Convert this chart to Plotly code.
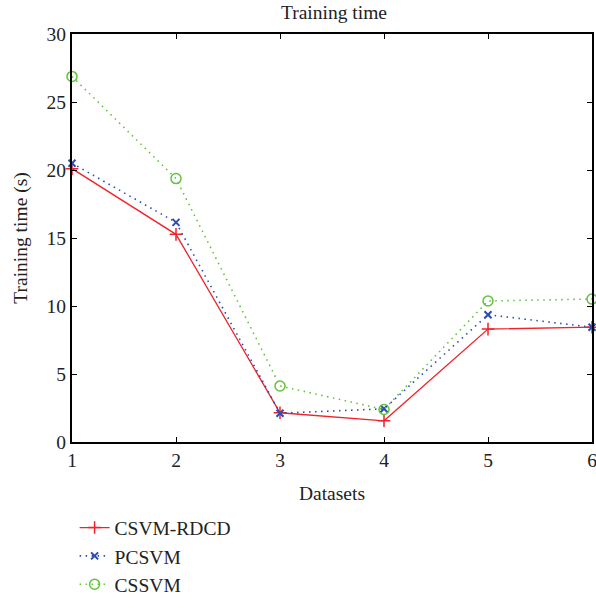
import plotly.graph_objects as go

datasets = [1, 2, 3, 4, 5, 6]
csvm_rdcd = [20.1, 15.27, 2.15, 1.56, 8.3, 8.44]
pcsvm = [20.5, 16.15, 2.12, 2.44, 9.36, 8.44]
cssvm = [26.88, 19.37, 4.12, 2.39, 10.37, 10.51]

x_ticks = [1, 2, 3, 4, 5, 6]
y_ticks = [0, 5, 10, 15, 20, 25, 30]

FONT = "Liberation Serif"
TXT = "#222"
FS = 19.5

fig = go.Figure()
fig.add_trace(go.Scatter(
    x=datasets, y=csvm_rdcd, name="CSVM-RDCD", mode="lines+markers",
    line=dict(color="#f0222a", width=1.3),
    marker=dict(symbol="cross-thin", size=9, line=dict(color="#f0222a", width=1.5)),
    cliponaxis=False,
))
fig.add_trace(go.Scatter(
    x=datasets, y=pcsvm, name="PCSVM", mode="lines+markers",
    line=dict(color="#2b4db3", width=1.6, dash="1.5px,4.5px"),
    marker=dict(symbol="x-thin", size=7, line=dict(color="#2b4db3", width=2)),
    cliponaxis=False,
))
fig.add_trace(go.Scatter(
    x=datasets, y=cssvm, name="CSSVM", mode="lines+markers",
    line=dict(color="#62c23c", width=1.6, dash="1.5px,4.5px"),
    marker=dict(symbol="circle-open", size=10, color="#62c23c", line=dict(width=1.5)),
    cliponaxis=False,
))

axis_common = dict(
    showline=True, linecolor="black", linewidth=2, mirror="ticks",
    ticks="inside", ticklen=5, tickwidth=1, tickcolor="black",
    showgrid=False, zeroline=False, automargin=False,
    ticklabeloverflow="allow",
    tickfont=dict(family=FONT, size=FS, color=TXT),
)

fig.update_layout(
    width=596, height=609,
    margin=dict(l=72, r=4, t=34, b=165),
    paper_bgcolor="white", plot_bgcolor="white",
    title=dict(text="Training time", x=(334 / 596), xanchor="center", y=1 - 12 / 609, yanchor="middle",
               font=dict(family=FONT, size=FS, color=TXT), automargin=False),
    xaxis=dict(range=[1, 6], tickvals=x_ticks,
               title=dict(text="Datasets", font=dict(family=FONT, size=FS, color=TXT), standoff=16),
               **axis_common),
    yaxis=dict(range=[0, 30], tickvals=y_ticks,
               title=dict(text="Training time (s)", font=dict(family=FONT, size=FS, color=TXT), standoff=14),
               **axis_common),
    legend=dict(x=0.005, y=-0.398, xanchor="left", yanchor="bottom",
                font=dict(family=FONT, size=FS, color=TXT),
                bgcolor="rgba(0,0,0,0)", tracegroupgap=0, itemwidth=30),
    showlegend=True,
)

fig.write_html("out.html", config={"displayModeBar": False},
               post_script="document.body.style.margin='0';document.body.style.overflow='hidden';")
